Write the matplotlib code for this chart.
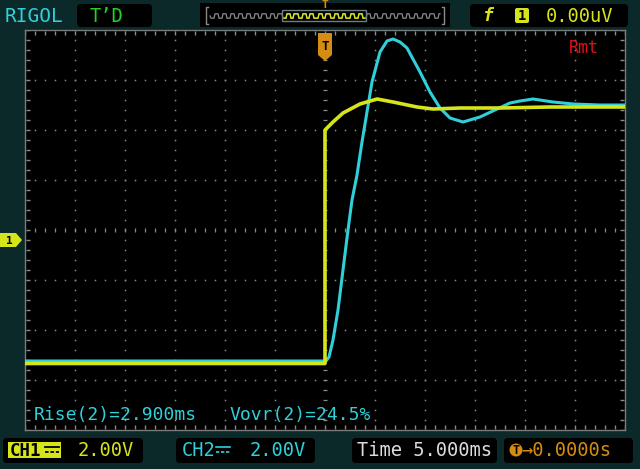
import numpy as np
import matplotlib
matplotlib.use('Agg')
import matplotlib.pyplot as plt
from matplotlib.patches import FancyBboxPatch, Rectangle, Polygon, Circle

# ---- data (time in ms, voltage in V relative to screen centre) ----
ch1_t = [-30, 0.0, 0.0, 0.8, 1.8, 3.5, 5.2, 6.8, 9.2, 10.8, 13.5, 17.5, 22.5, 30]
ch1_v = [-5.34, -5.34, 4.0, 4.32, 4.68, 5.04, 5.24, 5.12, 4.92, 4.84, 4.88, 4.88, 4.92, 4.92]

ch2_t = [-30, 0.1, 0.4, 0.8, 1.3, 1.8, 2.3, 2.7, 3.2, 3.7, 4.2, 4.7, 5.5, 6.2, 6.8, 7.5,
         8.2, 9.5, 10.5, 11.5, 12.5, 13.8, 15.5, 17.2, 18.5, 19.5, 20.8, 22.8, 24.8, 27.5, 30]
ch2_v = [-5.24, -5.24, -5.08, -4.4, -3.2, -1.6, 0.0, 1.2, 2.2, 3.52, 4.72, 5.92, 7.12, 7.56,
         7.64, 7.52, 7.28, 6.32, 5.52, 4.88, 4.48, 4.32, 4.52, 4.84, 5.08, 5.16, 5.24, 5.12,
         5.04, 5.0, 5.0]

time_div = 5.0      # ms / div
volt_div = 2.0      # V / div
n_hdiv, n_vdiv = 12, 8

measure_text = ["Rise(2)=2.900ms", "Vovr(2)=24.5%"]
ch1_label, ch2_label = "2.00V", "2.00V"
time_label = "Time 5.000ms"
trig_pos_label = "\u21920.0000s"
trig_level_label = "0.00uV"

YEL = '#d6e41c'
CYN = '#2fd0da'
TEAL = '#0b2929'
GRID = '#8a8a8a'
ORANGE = '#d48c12'
MONO = 'DejaVu Sans Mono'

fig = plt.figure(figsize=(6.4, 4.69), dpi=100, facecolor=TEAL)
ax = fig.add_axes([25/640, 39/469, 600/640, 400/469])
ax.set_facecolor('black')
xmax = time_div * n_hdiv / 2
ymax = volt_div * n_vdiv / 2
ax.set_xlim(-xmax, xmax)
ax.set_ylim(-ymax, ymax)
for s in ax.spines.values():
    s.set_color('#7a7a7a')
    s.set_linewidth(1.0)
ax.set_xticks([])
ax.set_yticks([])

# grid dots
ys_fine = np.arange(-ymax, ymax + 1e-9, volt_div / 5)
xs_fine = np.arange(-xmax, xmax + 1e-9, time_div / 5)
for k in range(1, n_hdiv):
    xg = -xmax + k * time_div
    if abs(xg) < 1e-9:
        ax.plot([0] * len(ys_fine), ys_fine, ls='none', marker='_', ms=3, mew=0.9, color=GRID, zorder=1)
    else:
        ax.plot([xg] * len(ys_fine), ys_fine, ls='none', marker='s', ms=1.1, mew=0, color=GRID, zorder=1)
for k in range(1, n_vdiv):
    yg = -ymax + k * volt_div
    if abs(yg) < 1e-9:
        ax.plot(xs_fine, [0] * len(xs_fine), ls='none', marker='|', ms=3, mew=0.9, color=GRID, zorder=1)
    else:
        ax.plot(xs_fine, [yg] * len(xs_fine), ls='none', marker='s', ms=1.1, mew=0, color=GRID, zorder=1)
# border ticks
ax.plot(xs_fine, [-ymax + 0.12] * len(xs_fine), ls='none', marker='|', ms=3, mew=1, color=GRID)
ax.plot(xs_fine, [ymax - 0.12] * len(xs_fine), ls='none', marker='|', ms=3, mew=1, color=GRID)
ax.plot([-xmax + 0.3] * len(ys_fine), ys_fine, ls='none', marker='_', ms=3, mew=1, color=GRID)
ax.plot([xmax - 0.3] * len(ys_fine), ys_fine, ls='none', marker='_', ms=3, mew=1, color=GRID)

# traces
ax.plot(ch2_t, ch2_v, color=CYN, lw=2.2, zorder=3, solid_joinstyle='round')
ax.plot(ch1_t, ch1_v, color=YEL, lw=2.6, zorder=4, solid_joinstyle='round')

# ---- overlay in pixel coordinates ----
ov = fig.add_axes([0, 0, 1, 1])
ov.set_xlim(0, 640)
ov.set_ylim(469, 0)
ov.axis('off')
ov.patch.set_alpha(0)


def box(x0, y0, x1, y1, fc='black', ec='none', r=4, z=2):
    ov.add_patch(FancyBboxPatch((x0 + r, y0 + r), x1 - x0 - 2 * r, y1 - y0 - 2 * r,
                                boxstyle=f"round,pad={r}", fc=fc, ec=ec, lw=1, zorder=z))


# top bar
ov.text(5, 16, "RIGOL", color=CYN, family=MONO, fontsize=14, va='center', ha='left')
box(77, 4, 152, 27)
ov.text(90, 16, "T\u2019D", color='#22d422', family=MONO, fontsize=13.5, va='center', ha='left', zorder=3)

# memory overview
ov.add_patch(Rectangle((200, 3), 250, 24, fc='black', ec='none', zorder=1))
xw = np.arange(210, 441, 1.0)
yw = 16 + 2.2 * np.sign(np.sin((xw - 210) / 8.0 * 2 * np.pi))
ov.plot(xw, yw, color='#8a8a8a', lw=0.9, zorder=2)
m = (xw >= 284) & (xw <= 365)
ov.plot(xw[m], yw[m], color=YEL, lw=1.0, zorder=3)
ov.add_patch(Rectangle((282, 10), 84, 11, fc='none', ec='#6e7f80', lw=1.0, zorder=3))
ov.plot([208, 206, 206, 208], [7, 7, 24, 24], color='#8a8a8a', lw=1)
ov.plot([442, 444, 444, 442], [7, 7, 24, 24], color='#8a8a8a', lw=1)
ov.text(325, 5, "T", color=ORANGE, family=MONO, fontsize=8, fontweight='bold', va='center', ha='center', zorder=4)

# trigger box
box(470, 4, 628, 27)
ov.text(488, 16, "f", color=YEL, family=MONO, fontsize=13, fontstyle='italic', fontweight='bold',
        va='center', ha='center', zorder=3)
ov.add_patch(FancyBboxPatch((517, 10), 10, 11, boxstyle="round,pad=2", fc=YEL, ec='none', zorder=3))
ov.text(522, 16, "1", color='black', family=MONO, fontsize=10, fontweight='bold', va='center', ha='center', zorder=4)
ov.text(546, 16, trig_level_label, color=YEL, family=MONO, fontsize=13.5, va='center', ha='left', zorder=3)

# trigger position marker
ov.add_patch(Polygon([[318, 33], [332, 33], [332, 55], [325, 61], [318, 55]], closed=True,
                     fc=ORANGE, ec='none', zorder=5))
ov.text(325, 46, "T", color='black', family=MONO, fontsize=9, fontweight='bold', va='center', ha='center', zorder=6)

# channel 1 ground marker
ov.add_patch(Polygon([[0, 233], [16, 233], [22, 240], [16, 247], [0, 247]], closed=True,
                     fc=YEL, ec='none', zorder=5))
ov.text(9, 240.5, "1", color='black', family=MONO, fontsize=8, fontweight='bold', va='center', ha='center', zorder=6)

# Rmt
ov.text(569, 48, "Rmt", color='#d81414', family=MONO, fontsize=12, va='center', ha='left', zorder=5)

# measurements
ov.text(34, 415, measure_text[0], color=CYN, family=MONO, fontsize=13, va='center', ha='left', zorder=5)
ov.text(230, 415, measure_text[1], color=CYN, family=MONO, fontsize=13, va='center', ha='left', zorder=5)

# bottom bar
box(3, 438, 143, 463)
ov.add_patch(Rectangle((8, 442), 53, 16, fc=YEL, ec='none', zorder=3))
ov.text(10, 450.5, "CH1", color='black', family=MONO, fontsize=12.5, fontweight='bold', va='center', ha='left', zorder=4)
ov.plot([45, 59], [447, 447], color='black', lw=1.3, zorder=4)
ov.plot([45, 59], [452, 452], color='black', lw=1.3, ls=(0, (2, 1)), zorder=4)
ov.text(78, 450.5, ch1_label, color=YEL, family=MONO, fontsize=13.5, va='center', ha='left', zorder=3)

box(176, 438, 315, 463)
ov.text(182, 450.5, "CH2", color=CYN, family=MONO, fontsize=13.5, va='center', ha='left', zorder=3)
ov.plot([216, 230], [447, 447], color=CYN, lw=1.2, zorder=4)
ov.plot([216, 230], [452, 452], color=CYN, lw=1.2, ls=(0, (2, 1)), zorder=4)
ov.text(250, 450.5, ch2_label, color=CYN, family=MONO, fontsize=13.5, va='center', ha='left', zorder=3)

box(352, 438, 497, 463)
ov.text(357, 450.5, time_label, color='#dcdcdc', family=MONO, fontsize=13.5, va='center', ha='left', zorder=3)

box(504, 438, 633, 463)
ov.add_patch(Circle((516, 450), 6.5, fc=ORANGE, ec='none', zorder=3))
ov.text(516, 450.5, "T", color='black', family=MONO, fontsize=8.5, fontweight='bold', va='center', ha='center', zorder=4)
ov.text(521, 450.5, trig_pos_label, color=ORANGE, family=MONO, fontsize=13.5, va='center', ha='left', zorder=3)

fig.savefig('out.png', dpi=100, facecolor=TEAL)
